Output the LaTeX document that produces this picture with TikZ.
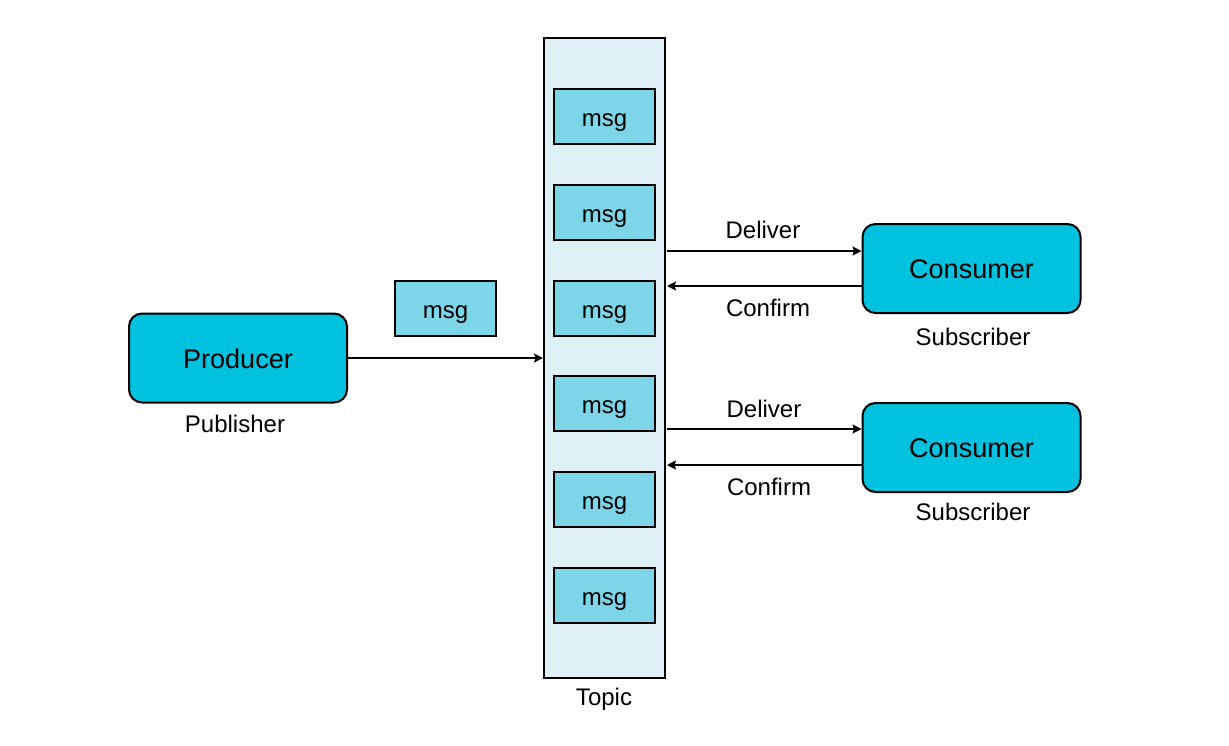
\documentclass[tikz,border=0pt]{standalone}
\usepackage{fontspec}
\setmainfont{Liberation Sans}
\usetikzlibrary{arrows.meta}
\definecolor{topicfill}{HTML}{DFF0F6}
\definecolor{msgfill}{HTML}{7DD5E8}
\definecolor{rolefill}{HTML}{00C1DE}
\begin{document}
\begin{tikzpicture}[x=1pt,y=-1pt,
  lbl/.style={font=\fontsize{24}{28}\selectfont, inner sep=0pt, anchor=base},
  msgbox/.style={draw, line width=2pt, fill=msgfill, minimum width=101pt, minimum height=55pt, inner sep=0pt, text height=20pt, text depth=0pt, font=\fontsize{24}{28}\selectfont},
  rolebox/.style={draw, line width=2pt, fill=rolefill, rounded corners=13pt, minimum width=218pt, minimum height=89pt, inner sep=0pt, text height=20pt, text depth=0pt, font=\fontsize{27}{32}\selectfont},
  conn/.style={line width=2pt, -{Stealth[length=9pt,width=9pt,inset=1.5pt]}}
]
\useasboundingbox (0,0) rectangle (1229,745);
\node[draw, line width=2pt, fill=topicfill, minimum width=121pt, minimum height=640pt, inner sep=0pt] (topic) at (604.5,358) {};
\node[lbl] (topiclbl) at (604,705) {Topic};
\node[msgbox] (m1) at (604.5,116.5) {msg};
\node[msgbox] (m2) at (604.5,212.5) {msg};
\node[msgbox] (m3) at (604.5,308.5) {msg};
\node[msgbox] (m4) at (604.5,403.5) {msg};
\node[msgbox] (m5) at (604.5,499.5) {msg};
\node[msgbox] (m6) at (604.5,595.5) {msg};
\node[msgbox] (mf) at (445.5,308.5) {msg};
\node[rolebox] (prod) at (238,358) {Producer};
\node[lbl] (publbl) at (235,432) {Publisher};
\node[rolebox] (c1) at (971.5,268.5) {Consumer};
\node[lbl] (s1) at (973,345) {Subscriber};
\node[rolebox] (c2) at (971.5,447.5) {Consumer};
\node[lbl] (s2) at (973,520) {Subscriber};
\coordinate (tin) at (topic.west |- prod.east);
\draw[conn] (prod.east) -- (tin);
% consumer 1
\coordinate (d1s) at (667,251);
\coordinate (d1e) at (c1.west |- d1s);
\draw[conn] (d1s) -- (d1e);
\coordinate (f1s) at (c1.west |- 0,286);
\coordinate (f1e) at (667,286);
\draw[conn] (f1s) -- (f1e);
\node[lbl] (dl1) at (763,238) {Deliver};
\node[lbl] (cl1) at (768,316) {Confirm};
% consumer 2
\coordinate (d2s) at (667,429);
\coordinate (d2e) at (c2.west |- d2s);
\draw[conn] (d2s) -- (d2e);
\coordinate (f2s) at (c2.west |- 0,465);
\coordinate (f2e) at (667,465);
\draw[conn] (f2s) -- (f2e);
\node[lbl] (dl2) at (764,417) {Deliver};
\node[lbl] (cl2) at (769,495) {Confirm};
\end{tikzpicture}
\end{document}
